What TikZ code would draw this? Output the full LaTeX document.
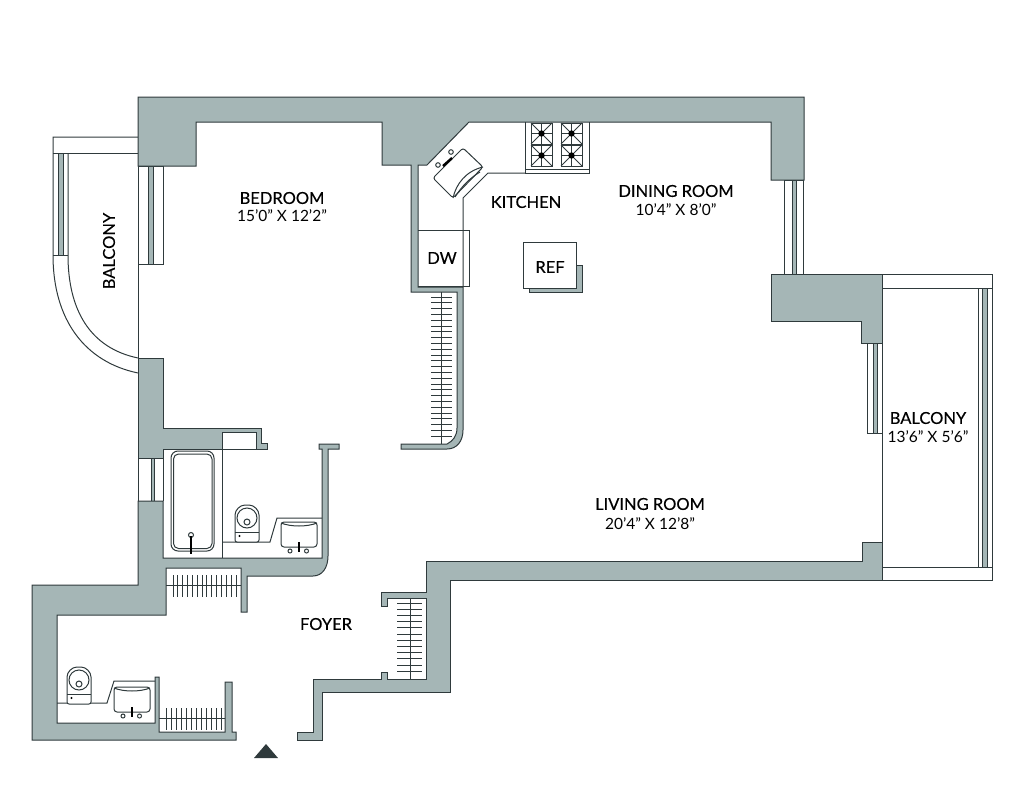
\documentclass[tikz,border=0pt]{standalone}
\usepackage{fontspec}
\setmainfont{Lato}
\newfontfamily\namefont[FakeBold=0.35]{Lato}
\definecolor{wallgray}{HTML}{A5B6B6}
\definecolor{inkdark}{HTML}{2F3A3C}
\tikzset{
	wall/.style={draw=inkdark,fill=wallgray,line width=1pt},
	thinline/.style={draw=inkdark,line width=1pt},
	band/.style={draw=inkdark,fill=wallgray,line width=0.9pt},
	roomname/.style={font=\namefont\fontsize{16.5}{18}\selectfont,text=black,inner sep=0pt},
	roomsize/.style={font=\fontsize{15.5}{18}\selectfont,text=black,inner sep=0pt}
}
\begin{document}
\begin{tikzpicture}[x=1pt,y=-1pt]
	\useasboundingbox (0,0) rectangle (1036,800);

	% balconies
	\draw[thinline] (138,137) -- (53,137) -- (53,255) .. controls (53,320) and (85,362) .. (138,373);
	\draw[thinline] (53,153) -- (138,153);
	\draw[thinline] (68,153) -- (68,255) .. controls (68,310) and (90,348) .. (138,358);
	\draw[thinline] (53,255) -- (68,255);
	\draw[band] (58,153) rectangle (63,255);
	\draw[thinline] (138,166) -- (138,358);
	\draw[thinline] (882,274) rectangle (992,580);
	\draw[thinline] (882,288) -- (992,288);
	\draw[thinline] (882,567) -- (992,567);
	\draw[thinline] (978,288) -- (978,567);
	\draw[band] (982.5,288) rectangle (987,567);

	% windows
	\draw[thinline] (138,166) -- (163,166) -- (163,264) -- (138,264);
	\draw[band] (148,166) rectangle (153,264);
	\draw[thinline] (138,458) -- (138,501);
	\draw[thinline] (163,458) -- (163,501);
	\draw[band] (151,458) rectangle (154,501);
	\draw[thinline] (784,180) rectangle (803,274);
	\draw[band] (792,180) rectangle (796,274);
	\draw[thinline] (867,343) -- (867,433) -- (882,433);
	\draw[band] (873,343) rectangle (877,433);

	% walls
	\draw[wall] (138,97) -- (804,97) -- (804,180) -- (771,180) -- (771,122) -- (469,122) -- (427,165) -- (418,165) -- (418,287) -- (463,287) -- (463,430) .. controls (463,441) and (457,449) .. (447,449) -- (401,449) -- (401,444) -- (447,444) .. controls (453,441) and (457,436) .. (457,428) -- (457,292) -- (411,292) -- (411,165) -- (382,165) -- (382,122) -- (196,122) -- (196,166) -- (138,166) -- cycle;
	\draw[wall] (138,358) -- (163,358) -- (163,428) -- (261,428) -- (261,443) -- (267,443) -- (267,449) -- (256,449) -- (256,432) -- (222,432) -- (222,449) -- (163,449) -- (163,458) -- (138,458) -- cycle;
	\draw[wall] (138,501) -- (163,501) -- (163,558) -- (322,558) -- (322,449) -- (319,449) -- (319,444) -- (339,444) -- (339,449) -- (328,449) -- (328,556) .. controls (328,568) and (322,576) .. (313,576) -- (247,576) -- (247,612) -- (241,612) -- (241,568) -- (166,568) -- (166,615) -- (57,615) -- (57,723) -- (155,723) -- (155,677) -- (159,677) -- (159,732) -- (225,732) -- (225,682) -- (232,682) -- (232,732) -- (236,732) -- (236,740) -- (32,740) -- (32,585) -- (138,585) -- cycle;
	\draw[wall] (313,679) -- (381,679) -- (381,672) -- (387,672) -- (387,679) -- (426,679) -- (426,598) -- (387,598) -- (387,606) -- (381,606) -- (381,592) -- (426,592) -- (426,561) -- (862,561) -- (862,542) -- (882,542) -- (882,580) -- (450,580) -- (450,692) -- (322,692) -- (322,740) -- (297,740) -- (297,732) -- (313,732) -- cycle;
	\draw[wall] (771,274) -- (882,274) -- (882,343) -- (861,343) -- (861,321) -- (771,321) -- cycle;

	% kitchen
	\draw[thinline] (463,287) -- (463,198) -- (488,173) -- (525,173);
	\draw[thinline] (418,230) -- (469,230) -- (469,286) -- (418,286);
	\draw[thinline] (525,122) -- (525,173) -- (589,173) -- (589,122);
	\draw[thinline] (525,169) -- (589,169);
	\foreach \gx in {531,561} {
		\foreach \gy in {123,145} {
			\draw[thinline] (\gx,\gy) rectangle ++(21,21);
			\draw[thinline] (\gx,\gy) -- ++(21,21);
			\draw[thinline] (\gx+21,\gy) -- ++(-21,21);
			\draw[thinline] (\gx+10.5,\gy) -- ++(0,21);
			\draw[thinline] (\gx,\gy+10.5) -- ++(21,0);
			\fill[black] (\gx+10.5,\gy+10.5) circle (3.2pt);
		}
	}
	\draw[thinline,fill=white,rounded corners=2.5pt] (463,148) -- (483,167) -- (453,198) -- (433,178) -- cycle;
	\draw[thinline] (483,167) .. controls (466,171) and (456,184) .. (453,198);
	\draw[thinline] (480,172) .. controls (470,178) and (462,186) .. (455,197);
	\draw[black,line width=2.4pt] (452,158) -- (443,166);
	\draw[thinline] (451,152) circle (2.3pt);
	\draw[thinline] (438,165) circle (2.3pt);
	\draw[band] (529,288) -- (576,288) -- (576,265) -- (582,265) -- (582,292) -- (529,292) -- cycle;
	\draw[thinline] (523,242) rectangle (576,288);

	% shelves
	\foreach \sy in {0,...,24} {
		\draw[thinline] (431,297+\sy*5.8) -- (452,297+\sy*5.8);
	}
	\draw[thinline] (441,292) -- (441,444);
	\foreach \sy in {0,...,11} {
		\draw[thinline] (397,603+\sy*6.2) -- (422,603+\sy*6.2);
	}
	\draw[thinline] (410,598) -- (410,679);
	\foreach \sx in {0,...,13} {
		\draw[thinline] (173+\sx*4.85,575) -- (173+\sx*4.85,597);
	}
	\draw[thinline] (166,585) -- (241,585);
	\foreach \sx in {0,...,11} {
		\draw[thinline] (166+\sx*5,708) -- (166+\sx*5,730);
	}
	\draw[thinline] (159,718) -- (225,718);

	% bathrooms
	\draw[thinline] (222,449) -- (222,558);
	\draw[thinline] (222,449) -- (256,449);
	\draw[thinline,rounded corners=7pt] (171,451) rectangle (214,551);
	\draw[thinline,rounded corners=5pt] (173.5,454) rectangle (212,548.5);
	\draw[thinline] (191,535) circle (2.5pt);
	\draw[black,line width=2pt] (191,536) -- (191,554);
	\draw[thinline] (222,542) -- (270,542) -- (277,518) -- (322,518);
	\draw[thinline] (57,703) -- (107,703) -- (114,681) -- (155,681);
	\foreach \tx/\ty in {235/505,67/667} {
		\begin{scope}[shift={(\tx,\ty)}]
			\draw[thinline,fill=white,rounded corners=2pt] (0,37) -- (0,12) .. controls (0,5) and (5,0) .. (12,0) .. controls (19,0) and (24,5) .. (24,12) -- (24,37) -- cycle;
			\draw[thinline] (0,27) -- (24,27);
			\draw[thinline] (12,13) circle (10pt);
			\draw[thinline] (12,17) circle (3pt);
			\fill[black] (4.5,31) circle (1.2pt);
		\end{scope}
	}
	\foreach \bx/\by in {281/522,114/687} {
		\begin{scope}[shift={(\bx,\by)}]
			\draw[thinline,rounded corners=3pt] (0,0) rectangle (36,25);
			\draw[thinline] (0,1) .. controls (10,5) and (26,5) .. (36,1);
			\draw[black,line width=2pt] (17.5,20) -- (17.5,30);
			\draw[thinline] (9,29) circle (2pt);
			\draw[thinline] (25.5,29) circle (2pt);
		\end{scope}
	}

	% entry mark
	\fill[inkdark] (254,758) -- (278,758) -- (266,744) -- cycle;

	% labels
	\node[roomname] (bedroom) at (282,198) {BEDROOM};
	\node[roomsize] (bedroomsize) at (282,216) {15'0" X 12'2"};
	\node[roomname] (kitchen) at (526,202) {KITCHEN};
	\node[roomname] (dining) at (676,191) {DINING ROOM};
	\node[roomsize] (diningsize) at (676,210) {10'4" X 8'0"};
	\node[roomname] (dw) at (442,258) {DW};
	\node[roomname] (ref) at (550,267) {REF};
	\node[roomname] (living) at (650,504) {LIVING ROOM};
	\node[roomsize] (livingsize) at (650,524) {20'4" X 12'8"};
	\node[roomname] (foyer) at (326,624) {FOYER};
	\node[roomname,rotate=90] (balconyleft) at (109,251) {BALCONY};
	\node[roomname] (balconyright) at (928,418) {BALCONY};
	\node[roomsize] (balconysize) at (928,437) {13'6" X 5'6"};
\end{tikzpicture}
\end{document}
